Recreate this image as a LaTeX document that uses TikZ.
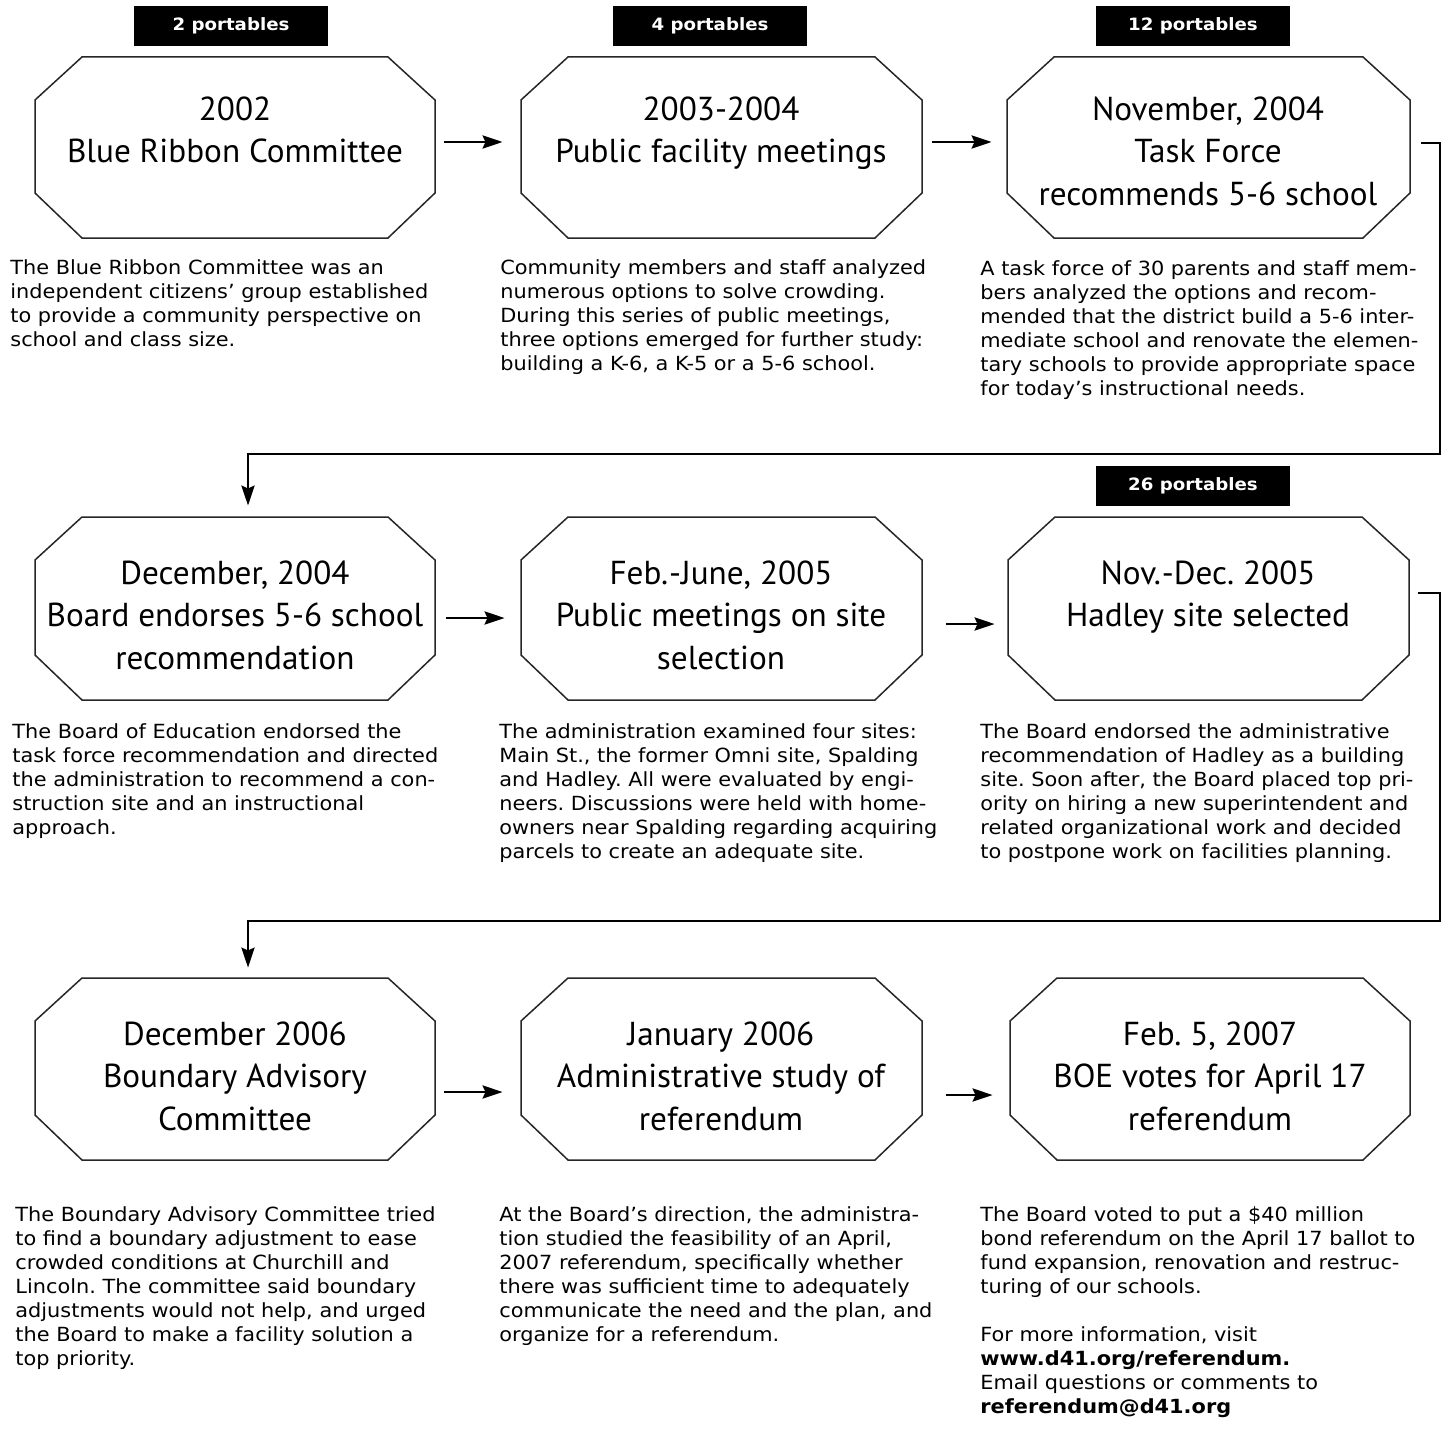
\documentclass[tikz,border=0pt]{standalone}
\usepackage{fontspec}
\setmainfont[FakeStretch=1.07]{DejaVu Sans}
\newfontfamily\titlefont{PT Sans}
\usetikzlibrary{arrows.meta,fit}
\frenchspacing
\newcommand\octagon[5]{%
  \coordinate (#1-nw) at (#2,#3);
  \coordinate (#1-se) at (#4,#5);
  \node[fit=(#1-nw)(#1-se), inner sep=0pt] (#1) {};
  \draw[octline] (#2+47,#3) -- (#4-47,#3) -- (#4,#3+43) -- (#4,#5-45) -- (#4-47,#5)
     -- (#2+47,#5) -- (#2,#5-45) -- (#2,#3+43) -- cycle;
}
\begin{document}
\frenchspacing
\begin{tikzpicture}[x=0.5pt,y=-0.5pt,
  octline/.style={draw=black!85, line width=0.75pt},
  badge/.style={fill=black, text=white, font=\bfseries\fontsize{8.5}{10}\selectfont,
     inner sep=0pt, minimum width=97pt, minimum height=20pt},
  ttl/.style={font=\titlefont\fontsize{16.6}{21.25}\selectfont, align=center, anchor=north, inner sep=0pt},
  body/.style={font=\fontsize{9.75}{12}\selectfont, align=left, anchor=north west, inner sep=0pt},
  conn/.style={line width=1.4pt},
  arr/.style={conn, -{Stealth[length=10pt,width=6.5pt,inset=1.5pt]}}]
\useasboundingbox (0,0) rectangle (1447,1429);
\fill[white] (0,0) rectangle (1447,1429);

% octagons
\octagon{o11}{35}{57}{435}{238}
\octagon{o12}{521}{57}{922}{238}
\octagon{o13}{1007}{57}{1410}{238}
\octagon{o21}{35}{517}{435}{700}
\octagon{o22}{521}{517}{922}{700}
\octagon{o23}{1008}{517}{1409}{700}
\octagon{o31}{35}{978}{435}{1160}
\octagon{o32}{521}{978}{922}{1160}
\octagon{o33}{1010}{978}{1410}{1160}

% badges
\node[badge] (bd1) at (231,26) {2 portables};
\node[badge] (bd2) at (710,26) {4 portables};
\node[badge] (bd3) at (1193,26) {12 portables};
\node[badge] (bd4) at (1193,486) {26 portables};

% titles
\node[ttl] (t11) at (235,96) {2002\\Blue Ribbon Committee};
\node[ttl] (t12) at (721,96) {2003-2004\\Public facility meetings};
\node[ttl] (t13) at (1208,96) {November, 2004\\Task Force\\recommends 5-6 school};
\node[ttl] (t21) at (235,560) {December, 2004\\Board endorses 5-6 school\\recommendation};
\node[ttl] (t22) at (721,560) {Feb.\kern0.5pt-June, 2005\\Public meetings on site\\selection};
\node[ttl] (t23) at (1208,560) {Nov.\kern0.5pt-Dec. 2005\\Hadley site selected};
\node[ttl] (t31) at (235,1021) {December 2006\\Boundary Advisory\\Committee};
\node[ttl] (t32) at (721,1021) {January 2006\\Administrative study of\\referendum};
\node[ttl] (t33) at (1210,1021) {Feb. 5, 2007\\BOE votes for April 17\\referendum};

% body texts
\node[body] (x11) at (10,259) {The Blue Ribbon Committee was an\\independent citizens’ group established\\to provide a community perspective on\\school and class size.};
\node[body] (x12) at (500,259) {Community members and staff analyzed\\numerous options to solve crowding.\\During this series of public meetings,\\three options emerged for further study:\\building a K-6, a K-5 or a 5-6 school.};
\node[body] (x13) at (980,260) {A task force of 30 parents and staff mem-\\bers analyzed the options and recom-\\mended that the district build a 5-6 inter-\\mediate school and renovate the elemen-\\tary schools to provide appropriate space\\for today’s instructional needs.};
\node[body] (x21) at (12,723) {The Board of Education endorsed the\\task force recommendation and directed\\the administration to recommend a con-\\struction site and an instructional\\approach.};
\node[body] (x22) at (499,723) {The administration examined four sites:\\Main St., the former Omni site, Spalding\\and Hadley. All were evaluated by engi-\\neers. Discussions were held with home-\\owners near Spalding regarding acquiring\\parcels to create an adequate site.};
\node[body] (x23) at (980,723) {The Board endorsed the administrative\\recommendation of Hadley as a building\\site. Soon after, the Board placed top pri-\\ority on hiring a new superintendent and\\related organizational work and decided\\to postpone work on facilities planning.};
\node[body] (x31) at (15,1206) {The Boundary Advisory Committee tried\\to find a boundary adjustment to ease\\crowded conditions at Churchill and\\Lincoln. The committee said boundary\\adjustments would not help, and urged\\the Board to make a facility solution a\\top priority.};
\node[body] (x32) at (499,1206) {At the Board’s direction, the administra-\\tion studied the feasibility of an April,\\2007 referendum, specifically whether\\there was sufficient time to adequately\\communicate the need and the plan, and\\organize for a referendum.};
\node[body] (x33) at (980,1206) {The Board voted to put a \$40 million\\bond referendum on the April 17 ballot to\\fund expansion, renovation and restruc-\\turing of our schools.\\[12pt]For more information, visit\\\textbf{www.d41.org/referendum.}\\Email questions or comments to\\\textbf{referendum@d41.org}};

% horizontal arrows
\draw[arr] ([xshift=4.5pt,yshift=2.75pt]o11.east) -- ([xshift=-9pt,yshift=2.75pt]o12.west);
\draw[arr] ([xshift=5pt,yshift=2.75pt]o12.east) -- ([xshift=-7.5pt,yshift=2.75pt]o13.west);
\draw[arr] ([xshift=5.5pt,yshift=-4.75pt]o21.east) -- ([xshift=-8pt,yshift=-4.75pt]o22.west);
\draw[arr] ([xshift=12pt,yshift=-7.75pt]o22.east) -- ([xshift=-6.5pt,yshift=-7.75pt]o23.west);
\draw[arr] ([xshift=4.5pt,yshift=-11.5pt]o31.east) -- ([xshift=-9pt,yshift=-11.5pt]o32.west);
\draw[arr] ([xshift=12pt,yshift=-13pt]o32.east) -- ([xshift=-8.5pt,yshift=-13pt]o33.west);

% row connectors
\coordinate (c1a) at (1440,454);
\coordinate (c1b) at (248,454);
\draw[arr, shorten >=5.5pt] ([xshift=5.5pt,yshift=2.25pt]o13.east) -| (c1a) -- (c1b) -- (c1b |- o21.north);
\coordinate (c2a) at (1440,921);
\coordinate (c2b) at (248,921);
\draw[arr, shorten >=5pt] ([xshift=4.5pt,yshift=7.75pt]o23.east) -| (c2a) -- (c2b) -- (c2b |- o31.north);
\end{tikzpicture}
\end{document}
